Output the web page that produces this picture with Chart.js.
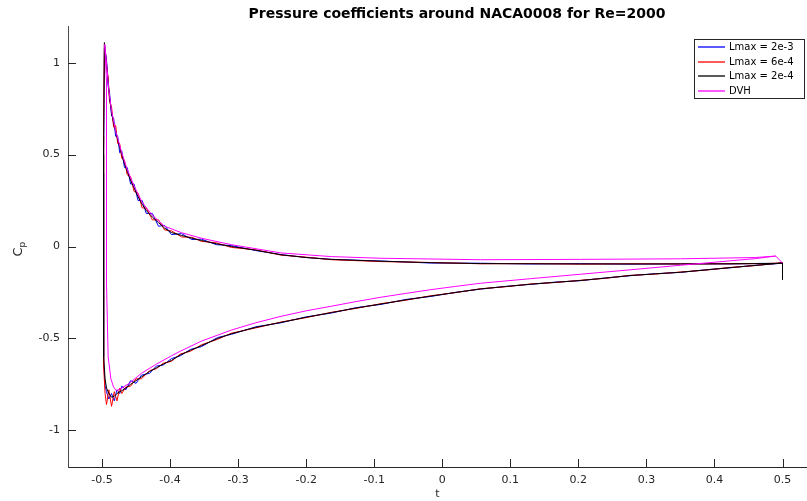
<!DOCTYPE html>
<html>
<head>
<meta charset="utf-8">
<script src="https://cdn.jsdelivr.net/npm/chart.js@4.4.0/dist/chart.umd.min.js"></script>
<style>
    html, body { margin: 0; padding: 0; background: #fff; }
</style>
</head>
<body>
<canvas id="cpChart" width="807" height="501"></canvas>
<script>
// axis ticks
const xTicks = [-0.5, -0.4, -0.3, -0.2, -0.1, 0, 0.1, 0.2, 0.3, 0.4, 0.5]
const yTicks = [-1, -0.5, 0, 0.5, 1]

const seriesNames = ["Lmax = 2e-3", "Lmax = 6e-4", "Lmax = 2e-4", "DVH"]
const seriesColors = ["#0000ff", "#ff0000", "#000000", "#ff00ff"]

// upper surface stations, leading edge -> trailing edge
const tUpper = [-0.4965, -0.4934, -0.491, -0.489, -0.486, -0.483, -0.48, -0.477, -0.474, -0.471,
    -0.467, -0.463, -0.458, -0.453, -0.447, -0.441, -0.435, -0.426, -0.417, -0.408,
    -0.398, -0.383, -0.368, -0.354, -0.332, -0.31, -0.274, -0.237, -0.2, -0.163,
    -0.09, -0.017, 0.056, 0.13, 0.203, 0.276, 0.35, 0.423, 0.467, 0.49, 0.5]

const cpUpperL2e3 = [1.08, 1.02, 0.87, 0.84, 0.71, 0.7, 0.6, 0.6, 0.51, 0.52,
    0.43, 0.43, 0.34, 0.34, 0.25, 0.25, 0.18, 0.18, 0.11, 0.115,
    0.065, 0.07, 0.038, 0.04, 0.01, 0.005, -0.022, -0.044, -0.06, -0.07,
    -0.079, -0.09, -0.091, -0.095, -0.093, -0.096, -0.094, -0.095, -0.092, -0.092, -0.09]

const cpUpperL6e4 = [1.1, 0.98, 0.92, 0.79, 0.76, 0.65, 0.66, 0.56, 0.56, 0.48,
    0.47, 0.39, 0.38, 0.3, 0.29, 0.21, 0.21, 0.145, 0.145, 0.09,
    0.085, 0.052, 0.05, 0.028, 0.02, -0.005, -0.018, -0.047, -0.058, -0.072,
    -0.082, -0.087, -0.094, -0.093, -0.096, -0.094, -0.095, -0.094, -0.093, -0.091, -0.09]

const cpUpperL2e4 = [1.11, 1.0, 0.9, 0.81, 0.73, 0.67, 0.63, 0.58, 0.54, 0.5,
    0.45, 0.41, 0.36, 0.32, 0.27, 0.23, 0.196, 0.16, 0.13, 0.1,
    0.076, 0.06, 0.045, 0.033, 0.015, 0.0, -0.02, -0.045, -0.06, -0.07,
    -0.08, -0.088, -0.093, -0.094, -0.095, -0.095, -0.095, -0.094, -0.093, -0.092, -0.09]

// lower surface stations, leading edge -> trailing edge (last one is the trailing edge drop)
const tLower = [-0.4978, -0.4978, -0.4975, -0.4955, -0.4934, -0.49, -0.486, -0.482, -0.478, -0.474,
    -0.471, -0.465, -0.458, -0.45, -0.442, -0.43, -0.42, -0.41, -0.398, -0.385,
    -0.37, -0.354, -0.33, -0.31, -0.274, -0.237, -0.2, -0.163, -0.127, -0.09,
    -0.053, -0.017, 0.02, 0.056, 0.093, 0.13, 0.166, 0.203, 0.24, 0.276,
    0.313, 0.35, 0.386, 0.423, 0.46, 0.49, 0.5, 0.5]

const cpLowerL2e3 = [0.4, -0.35, -0.62, -0.76, -0.79, -0.83, -0.8, -0.84, -0.78, -0.8,
    -0.76, -0.78, -0.73, -0.745, -0.7, -0.69, -0.65, -0.645, -0.61, -0.595,
    -0.56, -0.545, -0.495, -0.478, -0.437, -0.415, -0.383, -0.362, -0.333, -0.315,
    -0.288, -0.272, -0.249, -0.232, -0.217, -0.206, -0.194, -0.186, -0.171, -0.159,
    -0.148, -0.141, -0.127, -0.116, -0.102, -0.094, -0.09, -0.12]

const cpLowerL6e4 = [0.6, -0.25, -0.65, -0.8, -0.86, -0.78, -0.87, -0.79, -0.84, -0.77,
    -0.8, -0.765, -0.76, -0.72, -0.72, -0.675, -0.665, -0.635, -0.625, -0.585,
    -0.57, -0.535, -0.505, -0.472, -0.443, -0.411, -0.387, -0.358, -0.337, -0.311,
    -0.292, -0.268, -0.251, -0.23, -0.219, -0.204, -0.196, -0.184, -0.173, -0.157,
    -0.15, -0.139, -0.129, -0.114, -0.104, -0.092, -0.09, -0.11]

const cpLowerL2e4 = [0.5, -0.3, -0.6, -0.72, -0.77, -0.8, -0.82, -0.815, -0.8, -0.79,
    -0.785, -0.77, -0.75, -0.73, -0.71, -0.68, -0.66, -0.64, -0.62, -0.59,
    -0.565, -0.54, -0.5, -0.475, -0.44, -0.413, -0.385, -0.36, -0.335, -0.313,
    -0.29, -0.27, -0.25, -0.231, -0.218, -0.205, -0.195, -0.185, -0.172, -0.158,
    -0.149, -0.14, -0.128, -0.115, -0.103, -0.093, -0.09, -0.18]

// DVH reference curve
const tUpperDVH = [-0.496, -0.4934, -0.49, -0.486, -0.48, -0.471, -0.463, -0.453, -0.441, -0.426,
    -0.408, -0.383, -0.354, -0.31, -0.237, -0.163, -0.09, 0.056, 0.203, 0.35,
    0.46, 0.49, 0.5]
const cpUpperDVH = [1.1, 1.0, 0.85, 0.74, 0.63, 0.51, 0.42, 0.33, 0.24, 0.17,
    0.11, 0.075, 0.045, 0.01, -0.035, -0.055, -0.064, -0.072, -0.07, -0.067,
    -0.06, -0.052, -0.09]

const tLowerDVH = [-0.4934, -0.4934, -0.491, -0.487, -0.483, -0.479, -0.471, -0.46, -0.442, -0.42,
    -0.398, -0.385, -0.354, -0.31, -0.274, -0.237, -0.2, -0.163, -0.127, -0.09,
    -0.053, -0.017, 0.02, 0.056, 0.13, 0.203, 0.276, 0.35, 0.423, 0.46, 0.49]
const cpLowerDVH = [0.9, -0.2, -0.6, -0.72, -0.765, -0.785, -0.77, -0.745, -0.69, -0.64,
    -0.595, -0.57, -0.515, -0.455, -0.415, -0.38, -0.35, -0.325, -0.3, -0.276,
    -0.255, -0.235, -0.217, -0.2, -0.175, -0.151, -0.127, -0.102, -0.078, -0.066, -0.052]

// trailing edge -> upper surface -> leading edge -> lower surface -> trailing edge
const toPath = (tUp, cpUp, tLo, cpLo) => {
    const pts = []
    for (let i = tUp.length - 1; i >= 0; i--) pts.push({ x: tUp[i], y: cpUp[i] })
    for (let i = 0; i < tLo.length; i++) pts.push({ x: tLo[i], y: cpLo[i] })
    return pts
}

const paths = [
    toPath(tUpper, cpUpperL2e3, tLower, cpLowerL2e3),
    toPath(tUpper, cpUpperL6e4, tLower, cpLowerL6e4),
    toPath(tUpper, cpUpperL2e4, tLower, cpLowerL2e4),
    toPath(tUpperDVH, cpUpperDVH, tLowerDVH, cpLowerDVH),
]

const axisColor = "#262626"

// matlab style ticks pointing into the axes, plus title and C_p label
const axesDecor = {
    id: "axesDecor",
    afterDraw(chart) {
        const { ctx, chartArea, scales } = chart
        ctx.save()
        ctx.strokeStyle = axisColor
        ctx.lineWidth = 1
        ctx.beginPath()
        scales.x.ticks.forEach((t) => {
            const px = Math.round(scales.x.getPixelForValue(t.value)) + 0.5
            ctx.moveTo(px, chartArea.bottom)
            ctx.lineTo(px, chartArea.bottom - 8)
        })
        scales.y.ticks.forEach((t) => {
            const py = Math.round(scales.y.getPixelForValue(t.value)) + 0.5
            ctx.moveTo(chartArea.left, py)
            ctx.lineTo(chartArea.left + 8, py)
        })
        ctx.stroke()

        ctx.fillStyle = "#000"
        ctx.font = "bold 14px 'DejaVu Sans'"
        ctx.textAlign = "center"
        ctx.textBaseline = "middle"
        ctx.fillText("Pressure coefficients around NACA0008 for Re=2000", 457, 14)

        // y label C_p, rotated
        ctx.fillStyle = axisColor
        ctx.translate(22, 248)
        ctx.rotate(-Math.PI / 2)
        ctx.textBaseline = "alphabetic"
        ctx.textAlign = "left"
        ctx.font = "13px 'DejaVu Sans'"
        const cw = ctx.measureText("C").width
        ctx.fillText("C", -cw / 2 - 4, 0)
        ctx.font = "9px 'DejaVu Sans'"
        ctx.fillText("p", cw / 2 - 4, 3)
        ctx.restore()
    },
}

// legend box inside the axes, top right
const boxLegend = {
    id: "boxLegend",
    afterDraw(chart) {
        const { ctx } = chart
        const x0 = 694, y0 = 39, w = 111, h = 60
        ctx.save()
        ctx.fillStyle = "#fff"
        ctx.fillRect(x0, y0, w, h)
        ctx.strokeStyle = axisColor
        ctx.lineWidth = 1
        ctx.strokeRect(x0 + 0.5, y0 + 0.5, w - 1, h - 1)
        ctx.font = "10px 'DejaVu Sans'"
        ctx.textBaseline = "middle"
        ctx.textAlign = "left"
        seriesNames.forEach((name, i) => {
            const y = Math.round(y0 + 8 + i * 14.7)
            ctx.strokeStyle = seriesColors[i]
            ctx.lineWidth = 1.3
            ctx.beginPath()
            ctx.moveTo(x0 + 4, y)
            ctx.lineTo(x0 + 31, y)
            ctx.stroke()
            ctx.fillStyle = "#000"
            ctx.fillText(name, x0 + 35, y)
        })
        ctx.restore()
    },
}

Chart.defaults.font.family = "'DejaVu Sans', sans-serif"

const drawOrder = [3, 2, 1, 0]

new Chart(document.getElementById("cpChart"), {
    type: "scatter",
    data: {
        datasets: paths.map((data, i) => ({
            label: seriesNames[i],
            data,
            showLine: true,
            borderColor: seriesColors[i],
            backgroundColor: seriesColors[i],
            borderWidth: 1,
            pointRadius: 0,
            tension: 0,
            order: drawOrder[i],
        })),
    },
    plugins: [axesDecor, boxLegend],
    options: {
        responsive: false,
        animation: false,
        devicePixelRatio: 1,
        layout: { padding: { left: 0, right: 0, top: 26, bottom: 0 } },
        plugins: {
            legend: { display: false },
            tooltip: { enabled: false },
            title: { display: false },
        },
        scales: {
            x: {
                type: "linear",
                min: -0.55,
                max: 0.536,
                grid: { display: false, drawTicks: false },
                border: { display: true, color: axisColor, width: 1 },
                afterBuildTicks: (scale) => {
                    scale.ticks = xTicks.map((v) => ({ value: v }))
                },
                afterFit: (scale) => {
                    scale.height = 34
                },
                ticks: {
                    color: axisColor,
                    font: { size: 11 },
                    padding: 7,
                    maxRotation: 0,
                    autoSkip: false,
                    callback: (v) => String(Math.round(v * 10) / 10),
                },
                title: {
                    display: true,
                    text: "t",
                    color: axisColor,
                    font: { size: 11 },
                    padding: { top: 0, bottom: 0 },
                },
            },
            y: {
                type: "linear",
                min: -1.2,
                max: 1.2,
                grid: { display: false, drawTicks: false },
                border: { display: true, color: "#4a4a4a", width: 1 },
                afterBuildTicks: (scale) => {
                    scale.ticks = yTicks.map((v) => ({ value: v }))
                },
                afterFit: (scale) => {
                    scale.width = 68
                },
                ticks: {
                    color: axisColor,
                    font: { size: 11 },
                    padding: 8,
                    callback: (v) => String(v),
                },
            },
        },
    },
})
</script>
</body>
</html>
